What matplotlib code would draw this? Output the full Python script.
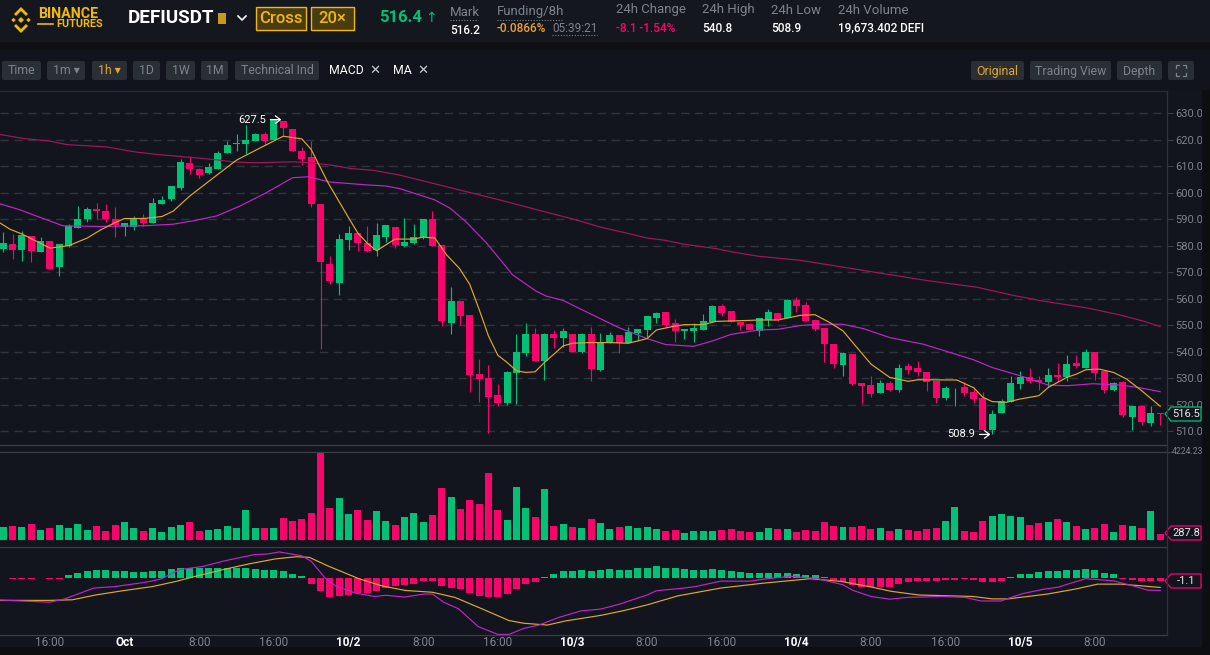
import matplotlib
matplotlib.use("Agg")
import matplotlib.pyplot as plt
from matplotlib.patches import Polygon, Rectangle, FancyBboxPatch

plt.rcParams['font.family'] = ['Roboto', 'DejaVu Sans']

W, H = 1210, 655
GREEN = '#02c076'
RED = '#f8056c'
YELLOW = '#e0a82e'
PURPLE = '#c026c8'
MAROON = '#a5155a'
BG = '#12151e'
GRID = '#30343c'
AXIS = '#3a3e46'
GRAY = '#7d838c'
GOLD = '#f0b90b'

#hourly candles
opens = [578.75, 580.6, 578.4, 583.5, 577.6, 581.6, 572, 580, 586.75, 590, 593.75, 593.25, 590.25, 587.1, 587.1, 590.25,
         588.5, 595.6, 597.5, 601.75, 611.25, 608.75, 607.25, 608.75, 614.75, 618.25, 618.5, 619.5, 622.1, 620, 627.1, 624.1,
         615.5, 613.6, 595.6, 573.1, 566, 582.1, 584.75, 581, 578.4, 583.25, 587, 580, 581, 583.25, 590, 580.25,
         551, 559, 553.75, 531.6, 530.25, 523.75, 520.75, 532, 539.4, 546.6, 536.5, 546.6, 545.1, 546.9, 540, 546.9,
         533.25, 543.25, 546.25, 543.25, 547.25, 548.1, 552.9, 555, 550.75, 547.9, 547.75, 548.1, 551.1, 557.4, 555.25, 551.25,
         550.4, 547.9, 552, 554.5, 552.6, 559.4, 557.5, 551.9, 548.9, 543.1, 535, 539.1, 528.1, 527.5, 524.5, 528.25,
         525.6, 534.6, 533.9, 532.6, 529, 522.5, 526.25, 526.6, 524.9, 522.5, 510.4, 517, 521.1, 527.75, 530.4, 529.4,
         528.5, 531.1, 530.4, 535.75, 534.1, 539.9, 532.75, 525.5, 528.6, 515.5, 519.6, 513.25, 517]
closes = [581, 578.4, 584, 578, 581.6, 571.3, 580.6, 587.25, 590, 593.75, 593, 590, 587.75, 588.5, 590.25, 588.5,
          596, 597.1, 602.4, 611.4, 608.75, 606.6, 609.5, 614.75, 618.1, 618.6, 620, 622.25, 619.5, 627.5, 624.25, 615.5,
          612.5, 595.9, 573.9, 566.6, 582.5, 584.75, 581, 578, 584, 587.75, 580.25, 581.25, 583.4, 590, 579.75, 551.5,
          559, 553.4, 531.25, 529.6, 523, 520.75, 532.4, 539.9, 546.6, 536.5, 546.6, 545.1, 547.75, 539.9, 546.9, 533.5,
          543.5, 546.25, 543.25, 547.5, 548.5, 553.4, 554.5, 550.25, 547.75, 548.5, 548.9, 551.5, 557.1, 554.75, 551.1, 550,
          548.1, 552.6, 554.9, 552.1, 559.4, 557.25, 551.5, 548.5, 542.9, 535.4, 539.5, 527.9, 527.25, 524.1, 528.25, 525.6,
          534.1, 533.1, 532.4, 528.75, 522.6, 526.4, 526.4, 524.5, 522.25, 510.4, 516.6, 521.4, 528.1, 530.5, 529.1, 528.5,
          531.1, 530.4, 535.4, 534.75, 540, 532, 525.5, 528.25, 516.25, 519.6, 513.5, 517, 516.5]
highs = [585.25, 584.4, 585.6, 583.8, 583.1, 581.6, 580.6, 588, 595, 594.4, 596, 595.6, 594.4, 588.5, 591.25, 591.9,
         598.1, 598.75, 602.4, 612.5, 613.75, 609.4, 611.25, 615.6, 619.4, 622, 625.5, 622.5, 622.9, 627.5, 627.1, 624.1,
         617.25, 619.4, 595.6, 576, 584.4, 587.5, 584.75, 587.25, 588.4, 587.75, 587, 590.4, 588.25, 590.1, 593, 580.25,
         564.5, 559, 553.75, 537.5, 535, 527.75, 532.9, 546.6, 551, 549.1, 547.25, 548.25, 549.1, 546.9, 547.25, 549.5,
         547.25, 547.6, 546.25, 549.5, 548.5, 553.4, 555, 555, 552.5, 548.5, 550.75, 554.4, 557.6, 557.9, 555.25, 551.6,
         551, 552.6, 556.25, 554.5, 559.75, 560.75, 558.75, 552, 548.9, 543.1, 540, 539.1, 528.1, 530.75, 529.5, 529.1,
         535.4, 535.75, 536.6, 532.6, 529, 527.25, 526.5, 528.75, 526.6, 524.75, 518.25, 522.25, 530.75, 532.9, 534.1, 531,
         533.75, 535.75, 539, 539, 540.9, 540, 532.75, 528.75, 528.9, 519.6, 519.6, 519.5, 517.1]
lows = [577.5, 575, 574.4, 574, 577.5, 571.3, 568.5, 579.5, 586.75, 588.75, 590.25, 589, 583.1, 583.5, 586, 587.5,
        588.5, 595.6, 597, 601, 607, 605.5, 607, 608.75, 614.75, 615.6, 614.4, 619.5, 618.1, 620, 621.5, 615.5,
        610.5, 594.75, 541, 565.4, 561.6, 578.5, 577.9, 577.5, 576, 581.25, 579, 579.5, 580.6, 582.5, 579.75, 549.75,
        546.75, 550.1, 525, 521.25, 509.25, 519.5, 520, 520.25, 538.5, 536.5, 529.5, 541.5, 542, 539.9, 539.75, 529.1,
        532.9, 543.25, 539.75, 543.25, 544.1, 545.6, 550.75, 549, 543.75, 544.75, 543.75, 548.1, 551.1, 553.5, 551.1, 548.25,
        548.1, 546, 549.75, 551.5, 552.6, 555, 551.5, 548, 536, 533.75, 530.75, 527.6, 520.4, 522.9, 524.5, 525.4,
        524.75, 531.6, 531, 525.4, 520.75, 522, 519.75, 523.25, 520.75, 510.4, 509, 517, 521.1, 526, 528.25, 525.6,
        526.6, 528.5, 529.1, 534.1, 534.1, 529.5, 524.5, 525.4, 515.4, 510.4, 512.6, 512.25, 512.6]

#moving averages as (hour index, price) pairs
ma7X = [-1, 0.7, 2, 3.6, 5, 7, 9, 10.4, 12, 13, 15, 17, 18.2, 20, 23, 25, 27.2, 30, 32, 33, 34.8, 37, 38, 39, 40, 42,
        44, 45, 46.25, 47.5, 48.9, 50, 51, 52, 53, 54, 55, 56, 57, 58, 59, 60, 61, 63, 65, 67, 69, 70, 71, 72, 73, 75,
        76.4, 79, 81, 83, 85.4, 87, 88.6, 90, 91.5, 93, 95, 97, 98, 102.2, 104, 105, 106, 107.5, 109, 111, 112, 114, 115,
        116, 117.5, 119, 120.4, 122, 124]
ma7Y = [590, 586.25, 584.4, 581.6, 579.1, 580, 582.9, 585.9, 588.75, 590.25, 590.25, 591, 593, 598.75, 606.9, 612.25, 616.25,
        621.25, 620.25, 616.25, 603.75, 590.6, 584.75, 581, 578.1, 582.5, 582.5, 583.25, 582.9, 576.6, 571.4, 565.4, 556, 546,
        538.75, 536, 532.9, 532.25, 532.5, 536, 539.1, 542.25, 543.25, 543.5, 543.5, 543.25, 545, 548.25, 549, 549.75, 550.25, 550.25,
        551.5, 551.75, 552, 552, 553.75, 554, 551, 547.9, 541.6, 535.4, 530.4, 528.9, 529.5, 529.4, 526.5, 522.9, 521.25, 521, 522.25,
        523.5, 526.6, 530.4, 531.6, 533.25, 533.5, 532.25, 529.75, 525.4, 519.5]
ma25X = [-1, 1.8, 4, 6.4, 10.4, 15, 18.2, 20.4, 22.9, 25.4, 28.2, 29.7, 31, 32.7, 35, 36.8, 39, 41, 42.5, 46.25, 47.9, 49.6,
         51.8, 54.6, 57.1, 58.2, 60, 61.8, 64, 66, 69, 71, 74, 76, 78, 81, 83, 85.4, 87.2, 90, 92.2, 95, 98.6, 101.5, 104,
         106, 109, 112, 114, 116.8, 119.7, 121.8, 124]
ma25Y = [596.5, 593.5, 590.6, 587.5, 587.25, 587.5, 588.1, 589.4, 591.25, 595, 600, 603, 605.6, 606, 604, 603.5, 602.9, 602.5,
         601.5, 597.25, 594.1, 589, 581, 569, 562.9, 561, 559.4, 556.25, 552.5, 549.1, 545, 542.75, 542.1, 544.1, 546.6, 548.25,
         548.5, 549.9, 550.4, 550.4, 548.75, 545.4, 542.9, 539.75, 537, 534.1, 531, 527.5, 527.25, 528, 527.5, 526.5, 525]
ma99X = [-1, 2.15, 5, 6.8, 11, 14, 16.4, 18.6, 22.5, 24.6, 26.8, 31, 32.9, 35.4, 37.2, 39.65, 42.5, 53.2, 57.9, 61.4, 64, 66.8,
         69, 71, 72.9, 76.4, 78.2, 81, 85.4, 98.3, 100.8, 104.3, 108.3, 111.5, 116.1, 119.7, 122.2, 124]
ma99Y = [622.3, 620.4, 619.4, 618.1, 617.25, 615.4, 614.4, 613.75, 612.5, 611.6, 611.25, 611.6, 611.25, 610.25, 609.1, 608.4,
         606.6, 597.25, 592.9, 589.75, 587, 584.75, 582.9, 582, 580.6, 578.9, 577.6, 576, 574.5, 567.25, 566, 564.4, 561.25, 559.1,
         556.6, 553.9, 551.6, 549.5]

volumes = [651, 683, 651, 778, 492, 588, 746, 603, 778, 508, 683, 445, 746, 873, 588, 445, 588, 413, 635, 746, 873, 445, 492, 556,
           683, 588, 1445, 588, 588, 588, 1064, 921, 1016, 1302, 4224, 1540, 2017, 1255, 1445, 969, 1397, 921, 730, 1112, 1302, 873,
           1207, 2493, 2064, 1493, 1921, 1731, 3208, 1445, 969, 2541, 1540, 1112, 2446, 683, 778, 635, 588, 1016, 826, 540, 651, 683,
           588, 635, 540, 445, 492, 349, 445, 445, 445, 492, 540, 445, 397, 397, 588, 540, 540, 397, 492, 445, 873, 683, 635, 635,
           683, 540, 588, 445, 540, 492, 445, 540, 588, 921, 1588, 445, 397, 921, 1159, 1255, 1159, 1112, 730, 826, 873, 1016, 873,
           683, 540, 588, 778, 397, 730, 683, 588, 1397, 288]

macdHist = [0.1, -0.4, -0.2, -0.2, 0.2, -0.4, -0.3, 1, 1.7, 2.3, 2.6, 2.6, 2.4, 2.3, 2, 1.9, 2.3, 2.3, 2.9, 3.3, 3.3, 3.3, 3.3, 3.3,
            3.4, 3.3, 3.3, 2.9, 2.7, 2.7, 2.3, 1.2, 0.6, -1.9, -4.2, -6.3, -6, -5.5, -5, -4.8, -4.2, -3.2, -2.7, -2.2, -1.9, -1,
            -0.9, -2.7, -3.2, -3.6, -4.9, -5.8, -6.2, -6.2, -5.2, -3.6, -1.9, -1.2, 0.4, 1.4, 2.3, 2.3, 2.7, 2.5, 2.7, 2.9, 2.8, 2.8,
            3.2, 3.5, 3.9, 3.5, 3.2, 3, 2.7, 2.7, 3, 2.7, 2.4, 1.9, 1.7, 1.7, 1.7, 1.7, 1.7, 1.5, 1, 0.9, 0.3, -0.6, -1.2, -2.2, -2.9,
            -2.9, -2.9, -2.9, -1.9, -1.2, -0.9, -0.9, -0.9, -0.7, -0.5, -0.4, -0.6, -1.2, -1.2, -0.9, 0.5, 1.2, 1.5, 2, 2.3, 2.4, 2.6,
            2.7, 2.9, 2.7, 1.7, 1.2, -0.2, -0.5, -1.1, -1.1, -1.1]
difX = [-1, 5, 6.6, 9.7, 12, 15.2, 16.9, 18.9, 21.4, 23.8, 26.9, 28.3, 29.6, 32, 33, 34.5, 35.7, 37.8, 39.8, 41, 43, 45.1, 46, 47.2,
        48.8, 50.9, 53, 54.2, 55.8, 57.4, 59.5, 61.9, 64, 66, 69, 70, 73, 74.2, 76.9, 80, 81.9, 84.4, 87.3, 90, 91, 93, 95, 96.9,
        100.6, 103.1, 104.8, 106.9, 109.2, 111.5, 113.1, 114.4, 116, 119, 120.6, 122.7, 124]
difY = [-7.2, -8, -6.9, -3.3, -2.8, -1.4, -0.3, 2.8, 3.9, 5.8, 7.8, 8, 8.7, 7.4, 5.6, 0, -2.8, -5, -6.1, -5.7, -6.3, -5.3, -5.3, -8,
        -10.2, -16.1, -18.7, -18.7, -16.7, -15.6, -13.1, -10.9, -10.3, -8.7, -5.6, -4.2, -3.3, -2.8, -1, -1, -0.2, 0.6, -0.2, -2.2,
        -4, -6.1, -7, -6.4, -6.1, -6.4, -7.6, -7.6, -5.2, -3.7, -3, -1.7, -0.2, -0.9, -2.2, -4, -4.1]
deaX = [-1, 5, 7.4, 9.9, 12.8, 16, 18.5, 20.6, 23.8, 26.3, 29.2, 31.4, 32.8, 34.9, 38.2, 40.6, 43.1, 46, 48.4, 51.3, 54.2, 55.8, 58.3,
        60.3, 64, 66.5, 69, 72.3, 76.9, 81.4, 86.5, 89.8, 93.1, 95.2, 98.1, 103.9, 106, 107.7, 111.9, 114.8, 117.3, 119.8, 124]
deaY = [-7.4, -7.4, -7.2, -5.6, -4.2, -2.8, -1.1, 0.6, 3, 4.7, 6.4, 7.1, 6.9, 3.9, -0.3, -2.6, -4.1, -4.7, -6.4, -10.2, -14.1, -15, -15.6,
        -14.2, -12.4, -10.8, -8.9, -5.9, -3.3, -1.7, -0.2, -1.1, -3, -4.4, -5.6, -6.1, -6.9, -6.9, -5.3, -3.7, -2, -2, -3.1]

priceTicks = [510, 520, 530, 540, 550, 560, 570, 580, 590, 600, 610, 620, 630]
timeTicks = [5, 13, 21, 29, 37, 45, 53, 61, 69, 77, 85, 93, 101, 109, 117]
timeLabels = ['16:00', 'Oct', '8:00', '16:00', '10/2', '8:00', '16:00', '10/3', '8:00', '16:00', '10/4', '8:00', '16:00', '10/5', '8:00']

fig = plt.figure(figsize=(W/100, H/100), dpi=100, facecolor=BG)

def pxAxes(x0, y0, x1, y1):
    ax = fig.add_axes([x0/W, 1-y1/H, (x1-x0)/W, (y1-y0)/H])
    ax.set_facecolor('none')
    for s in ax.spines.values():
        s.set_visible(False)
    return ax

#one index step is 9.33 px, index 0 sits at 3.3 px
xLeft = -3.3/9.33
xRight = (1167-3.3)/9.33
xs = list(range(len(opens)))
cols = [GREEN if c >= o else RED for o, c in zip(opens, closes)]
arrowLook = dict(arrowstyle='->,head_length=0.45,head_width=0.35', color='white', lw=0.9, shrinkA=1, shrinkB=0)

#candles
ax = pxAxes(0, 91, 1167, 445)
ax.set_xlim(xLeft, xRight)
ax.set_ylim(510-13.5*0.3768, 630+22*0.3768)
for tick in priceTicks:
    ax.axhline(tick, color=GRID, lw=1, dashes=(6, 4), zorder=1)
ax.vlines(xs, lows, highs, colors=cols, lw=0.8, zorder=2)
ax.bar(xs, [max(abs(c-o), 0.3) for o, c in zip(opens, closes)], bottom=[min(o, c) for o, c in zip(opens, closes)],
       width=0.75, color=cols, lw=0, zorder=3)
ax.plot(ma99X, ma99Y, color=MAROON, lw=0.85, zorder=4)
ax.plot(ma25X, ma25Y, color=PURPLE, lw=0.85, zorder=4)
ax.plot(ma7X, ma7Y, color=YELLOW, lw=0.85, zorder=4)
ax.yaxis.tick_right()
ax.set_yticks(priceTicks)
ax.set_yticklabels(['%.1f' % t for t in priceTicks])
ax.tick_params(axis='y', length=4, width=0.8, color=AXIS, labelcolor=GRAY, labelsize=8, pad=2)
ax.set_xticks([])
ax.annotate('627.5', xy=(29.8, 627.5), xytext=(-43, 0), textcoords='offset pixels', color='white', fontsize=8,
            va='center', ha='left', arrowprops=arrowLook)
ax.annotate('508.9', xy=(105.8, 508.9), xytext=(-43, 0), textcoords='offset pixels', color='white', fontsize=8,
            va='center', ha='left', arrowprops=arrowLook)

#volume
axV = pxAxes(0, 445, 1167, 546)
axV.set_xlim(xLeft, xRight)
axV.set_ylim(-272, 4544)
axV.bar(xs, volumes, width=0.75, color=cols, lw=0)
axV.yaxis.tick_right()
axV.set_yticks([4224.23])
axV.set_yticklabels([''])
axV.tick_params(axis='y', length=4, width=0.8, color=AXIS)
axV.set_xticks([])

#macd
axM = pxAxes(0, 546.5, 1167, 635)
axM.set_xlim(xLeft, xRight)
axM.set_ylim(-18.9, 10.5)
axM.bar(xs, macdHist, width=0.75, color=[GREEN if v >= 0 else RED for v in macdHist], lw=0)
axM.plot(deaX, deaY, color=YELLOW, lw=0.85)
axM.plot(difX, difY, color=PURPLE, lw=0.85)
axM.set_yticks([])
axM.set_xticks(timeTicks)
axM.set_xticklabels(timeLabels)
axM.tick_params(axis='x', length=0, labelcolor=GRAY, labelsize=8.5, pad=1)
for lab in axM.get_xticklabels():
    if lab.get_text() == 'Oct' or '/' in lab.get_text():
        lab.set_color('white')
        lab.set_fontweight('bold')

#page chrome, in pixels
ui = pxAxes(0, 0, W, H)
ui.set_xlim(0, W)
ui.set_ylim(H, 0)
ui.set_xticks([])
ui.set_yticks([])
ui.set_zorder(5)
ui.patch.set_visible(False)

def rect(x0, y0, x1, y1, color):
    ui.add_patch(Rectangle((x0, y0), x1-x0, y1-y0, facecolor=color, edgecolor='none'))

def label(x, y, s, color='white', size=9.5, ha='left', weight='normal'):
    ui.text(x, y, s, color=color, fontsize=size, ha=ha, va='center', fontweight=weight)

def button(x0, x1, s, color=GRAY):
    ui.add_patch(FancyBboxPatch((x0+2, 63), x1-x0-4, 15, boxstyle='round,pad=2', facecolor='#2a2e35', edgecolor='none'))
    label((x0+x1)/2, 71, s, color, 8.8, 'center')

def dotted(x0, x1, y):
    ui.plot([x0, x1], [y, y], color=GRAY, lw=0.8, ls=(0, (1, 1.5)))

rect(0, 0, W, 42, '#14171d')
rect(0, 42, W, 50, '#0e1014')
rect(0, 50, W, 90, '#11141c')
rect(1202, 90, W, 647, '#0c0e12')
rect(0, 647, W, H, '#0c0e12')

ui.plot([0, 1167], [91, 91], color='#282b32', lw=0.9)
for yy in (445, 451.5, 546.5, 635):
    ui.plot([0, 1167], [yy, yy], color=AXIS, lw=0.9)
ui.plot([1167, 1167], [91, 635], color='#30333a', lw=0.9)

#logo
def diamond(cx, cy, r):
    ui.add_patch(Polygon([(cx, cy-r), (cx+r, cy), (cx, cy+r), (cx-r, cy)], facecolor=GOLD, edgecolor='none'))
diamond(21, 20, 3)
diamond(13.5, 20, 2.2)
diamond(28.5, 20, 2.2)
ui.add_patch(Polygon([(21, 7), (28, 14), (26, 16), (21, 11), (16, 16), (14, 14)], facecolor=GOLD, edgecolor='none'))
ui.add_patch(Polygon([(21, 33), (28, 26), (26, 24), (21, 29), (16, 24), (14, 26)], facecolor=GOLD, edgecolor='none'))
label(38, 14, 'BINANCE', GOLD, 10.3, weight='bold')
ui.plot([38, 53], [24, 24], color=GOLD, lw=1.2)
label(56, 24, 'FUTURES', GOLD, 7.8, weight='bold')

label(128, 18, 'DEFIUSDT', 'white', 13.6, weight='bold')
rect(218, 13, 226, 24, '#c79a1d')
ui.plot([238, 242, 246], [16, 20, 16], color='white', lw=1.2)
for x0, x1, s in ((256, 306, 'Cross'), (311, 354, '20\u00d7')):
    ui.add_patch(Rectangle((x0, 7), x1-x0, 23, facecolor='#4a3c12', edgecolor=GOLD, lw=1))
    label((x0+x1)/2, 18.5, s, GOLD, 12, 'center', weight=500)
label(379, 18, '516.4', GREEN, 12, weight='bold')
label(425, 18, '\u2191', GREEN, 10)

label(450, 12, 'Mark', GRAY)
dotted(450, 478, 20)
label(450, 30, '516.2', 'white', 8.5, weight=500)
label(497, 12, 'Funding/8h', GRAY)
dotted(497, 563, 20)
label(497, 29, '-0.0866%', '#f0a030', 8.5, weight=500)
label(552, 29, '05:39:21', GRAY, 8.5)
dotted(552, 597, 35)
label(616, 10, '24h Change', GRAY)
label(616, 28, '-8.1 -1.54%', RED, 8.5, weight=500)
label(702, 10, '24h High', GRAY)
label(702, 28, '540.8', 'white', 8.5, weight=500)
label(771, 10, '24h Low', GRAY)
label(771, 28, '508.9', 'white', 8.5, weight=500)
label(838, 10, '24h Volume', GRAY)
label(838, 28, '19,673.402 DEFI', 'white', 8.5, weight=500)

button(2, 41, 'Time')
button(47, 85, '1m \u25be')
button(92, 127, '1h \u25be', '#e0a82e')
button(133, 160, '1D')
button(166, 195, '1W')
button(201, 228, '1M')
button(235, 319, 'Technical Ind')
label(329, 70, 'MACD', 'white', 8.8)
label(375, 70, '\u2715', '#c8ccd2', 9.5, 'center')
label(393, 70, 'MA', 'white', 8.8)
label(423, 70, '\u2715', '#c8ccd2', 9.5, 'center')
button(971, 1024, 'Original', '#e0a82e')
button(1030, 1111, 'Trading View')
button(1117, 1162, 'Depth')
button(1168, 1194, '')
#fullscreen icon corners
for cx, cy, sx, sy in ((1176, 65, 1, 1), (1186, 65, -1, 1), (1176, 76, 1, -1), (1186, 76, -1, -1)):
    ui.plot([cx+3*sx, cx, cx], [cy, cy, cy+3*sy], color=GRAY, lw=0.9)

#value tags on the right
def tag(x0, y, s, edge):
    ui.add_patch(Polygon([(x0, y), (x0+6, y-7), (1201, y-7), (1201, y+7), (x0+6, y+7)], facecolor=BG, edgecolor=edge, lw=0.9))
    label((x0+1207)/2, y, s, '#e8eaed', 8, 'center')
tag(1165, 414, '516.5', GREEN)
tag(1165, 533, '287.8', RED)
tag(1165, 581, '-1.1', RED)
label(1172, 451.5, '4224.23', GRAY, 6.2)

fig.savefig('out.png', dpi=100, facecolor=BG)
